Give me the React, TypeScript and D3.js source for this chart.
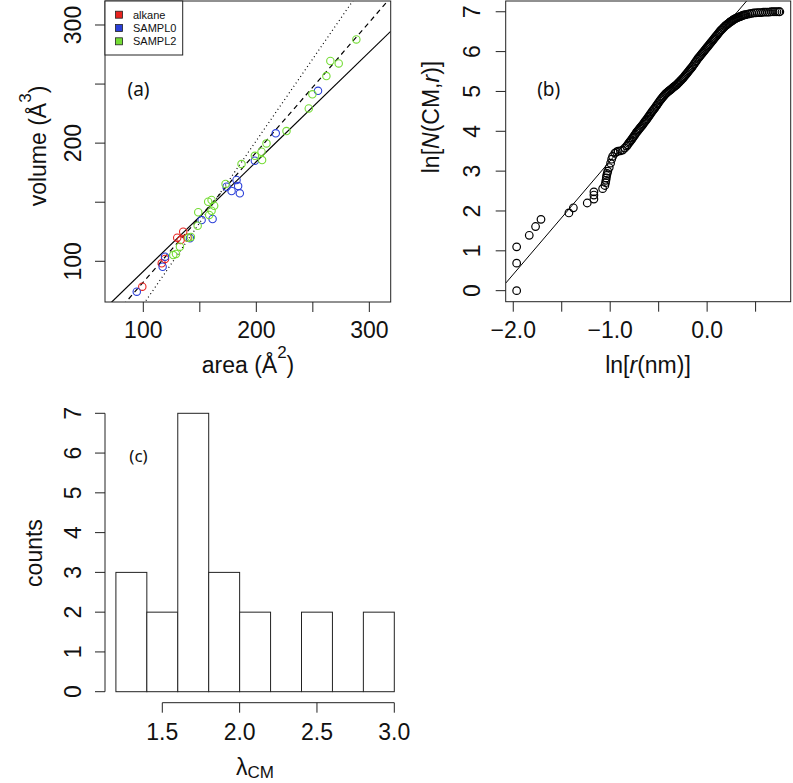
import React from 'react';
import * as d3 from 'd3';

// ---------- Panel (a) data ----------
const alkaneArea = [99.1, 116.3, 119.2, 130.0, 135.3, 139.2, 133.0];
const alkaneVolume = [78.5, 98.3, 102.0, 120.0, 125.0, 120.0, 118.0];
const sampl0Area = [94.2, 117.1, 119.2, 141.3, 151.6, 161.3, 173.7, 178.1, 182.5, 183.9, 185.4, 198.7, 217.2, 254.6];
const sampl0Volume = [74.3, 95.4, 103.9, 119.5, 134.9, 135.8, 163.1, 159.5, 168.8, 163.7, 157.5, 185.1, 208.3, 244.3];
const sampl2Area = [126.5, 128.9, 132.4, 139.8, 142.1, 148.1, 148.6, 158.3, 160.4, 157.4, 160.4, 162.7, 172.8, 186.9, 198.7, 204.6, 205.1, 209.0, 226.7, 246.4, 249.6, 262.0, 265.5, 272.9, 288.5];
const sampl2Volume = [105.3, 106.2, 112.4, 120.0, 120.6, 130.1, 141.5, 139.2, 142.8, 150.4, 151.9, 147.0, 165.4, 182.3, 189.3, 192.7, 185.7, 199.8, 210.2, 229.4, 241.3, 256.8, 269.5, 267.5, 287.8];
const seriesNames = ['alkane', 'SAMPL0', 'SAMPL2'];
const seriesColors = ['#e8231f', '#2a3fd8', '#74dc34'];
const fitSlopes = [0.928, 1.10, 1.386];
const fitIntercepts = [-1.3, -27.6, -75.1];
const fitDashes = ['none', '5,4', '1,3'];
const aXTicks = [100, 150, 200, 250, 300];
const aXLabels = [100, 200, 300];
const aYTicks = [100, 150, 200, 250, 300];
const aYLabels = [100, 200, 300];

// ---------- Panel (b) data ----------
const lnR = [
  -1.965, -1.965, -1.965, -1.835, -1.77, -1.714, -1.426, -1.38, -1.237, -1.168, -1.168, -1.168,
  -1.078, -1.055, -1.048, -1.044, -1.040, -1.037, -1.031, -1.025, -1.01, -0.996, -0.985, -0.975,
  -0.952, -0.935, -0.918, -0.895, -0.872, -0.85,
  -0.83, -0.82, -0.81, -0.80, -0.79, -0.78, -0.77, -0.76, -0.75, -0.74, -0.73, -0.72, -0.71,
  -0.70, -0.69, -0.68, -0.67, -0.66, -0.65, -0.64, -0.63, -0.62, -0.61, -0.60, -0.59, -0.58,
  -0.57, -0.56, -0.55, -0.54, -0.53, -0.52, -0.51, -0.50, -0.49, -0.48, -0.47, -0.46, -0.45,
  -0.44, -0.43, -0.42, -0.41, -0.40, -0.39, -0.38, -0.37, -0.36, -0.35, -0.34, -0.33, -0.32,
  -0.31, -0.30, -0.29, -0.28, -0.27, -0.26, -0.25, -0.24, -0.23, -0.22, -0.21, -0.20, -0.19,
  -0.18, -0.17, -0.16, -0.15, -0.14, -0.13, -0.12, -0.11, -0.10, -0.09, -0.08, -0.07, -0.06,
  -0.05, -0.04, -0.03, -0.02, -0.01, 0.00, 0.01, 0.02, 0.03, 0.04, 0.05, 0.06, 0.07,
  0.08, 0.09, 0.10, 0.11, 0.12, 0.13, 0.14, 0.15, 0.16, 0.17, 0.18, 0.19, 0.20,
  0.21, 0.22, 0.23, 0.24, 0.25, 0.26, 0.27, 0.28, 0.29, 0.30, 0.31, 0.32, 0.33,
  0.34, 0.35, 0.36, 0.37, 0.38, 0.39, 0.40, 0.42, 0.44, 0.46, 0.48, 0.50, 0.52,
  0.54, 0.56, 0.58, 0.60, 0.62, 0.64, 0.66, 0.68, 0.70, 0.72, 0.74, 0.75,
];
const lnN = [
  0.00, 0.69, 1.10, 1.39, 1.61, 1.79, 1.95, 2.08, 2.20, 2.30, 2.40, 2.48,
  2.56, 2.64, 2.71, 2.77, 2.83, 2.89, 2.94, 3.00, 3.09, 3.20, 3.30, 3.37,
  3.45, 3.48, 3.50, 3.51, 3.53, 3.58,
  3.63, 3.66, 3.70, 3.73, 3.76, 3.79, 3.83, 3.86, 3.90, 3.93, 3.97, 4.00, 4.03,
  4.06, 4.09, 4.12, 4.15, 4.18, 4.22, 4.25, 4.28, 4.31, 4.35, 4.38, 4.42, 4.45,
  4.49, 4.52, 4.55, 4.58, 4.62, 4.65, 4.69, 4.72, 4.76, 4.79, 4.82, 4.85, 4.88,
  4.91, 4.94, 4.96, 4.98, 5.00, 5.02, 5.04, 5.06, 5.08, 5.10, 5.12, 5.14, 5.16,
  5.18, 5.21, 5.23, 5.26, 5.28, 5.31, 5.33, 5.36, 5.39, 5.42, 5.45, 5.48, 5.51,
  5.54, 5.57, 5.60, 5.63, 5.67, 5.70, 5.74, 5.77, 5.81, 5.84, 5.87, 5.90, 5.93,
  5.96, 5.99, 6.02, 6.05, 6.08, 6.11, 6.14, 6.17, 6.20, 6.23, 6.26, 6.29, 6.32,
  6.35, 6.38, 6.41, 6.44, 6.47, 6.50, 6.53, 6.55, 6.58, 6.60, 6.63, 6.65, 6.67,
  6.69, 6.71, 6.73, 6.75, 6.76, 6.78, 6.80, 6.81, 6.83, 6.84, 6.85, 6.86, 6.87,
  6.88, 6.89, 6.90, 6.91, 6.92, 6.92, 6.93, 6.94, 6.95, 6.96, 6.97, 6.97, 6.98,
  6.98, 6.98, 6.99, 6.99, 6.99, 6.99, 7.00, 7.00, 7.00, 7.00, 7.00, 7.00,
];
const bFitSlope = 2.85;
const bFitIntercept = 6.11;
const bXTicks = [-2.0, -1.5, -1.0, -0.5, 0.0, 0.5];
const bXLabels = ['-2.0', '-1.0', '0.0'];
const bXLabelValues = [-2.0, -1.0, 0.0];
const bYTicks = [0, 1, 2, 3, 4, 5, 6, 7];

// ---------- Panel (c) data ----------
const binEdges = [1.2, 1.4, 1.6, 1.8, 2.0, 2.2, 2.4, 2.6, 2.8, 3.0];
const binCounts = [3, 2, 7, 3, 2, 0, 2, 0, 2];
const cXTicks = [1.5, 2.0, 2.5, 3.0];
const cYTicks = [0, 1, 2, 3, 4, 5, 6, 7];

const W = 793;
const H = 783;
const FONT = "'Liberation Sans', Arial, Helvetica, sans-serif";
const TICK = 10;
const FS = 23;

export default function App() {
  // panel a
  const ax = d3.scaleLinear().domain([66.1, 318.9]).range([105, 390.7]);
  const ay = d3.scaleLinear().domain([65.55, 320.3]).range([302, 1]);
  // panel b
  const bx = d3.scaleLinear().domain([-2.078, 0.862]).range([505.7, 790.7]);
  const by = d3.scaleLinear().domain([-0.277, 7.27]).range([301.7, 1]);
  // panel c
  const cx = d3.scaleLinear().domain([1.5, 3.0]).range([162.3, 394.3]);
  const cy = d3.scaleLinear().domain([0, 7]).range([691.7, 413.3]);

  const aSeries = [
    { xs: alkaneArea, ys: alkaneVolume },
    { xs: sampl0Area, ys: sampl0Volume },
    { xs: sampl2Area, ys: sampl2Volume },
  ];
  const [ax0, ax1] = ax.domain();
  const [bx0, bx1] = bx.domain();
  const line = d3.line<[number, number]>();

  const aBottom = ay.range()[0];
  const bBottom = by.range()[0];

  return (
    <svg width={W} height={H} style={{ position: 'absolute', left: 0, top: 0, background: '#fff' }} fontFamily={FONT}>
      <defs>
        <clipPath id="clipA"><rect x={105} y={1} width={285.7} height={301} /></clipPath>
        <clipPath id="clipB"><rect x={505.7} y={1} width={285} height={300.7} /></clipPath>
      </defs>

      {/* ===== Panel (a) ===== */}
      <g clipPath="url(#clipA)">
        {fitSlopes.map((s, i) => (
          <path key={i}
            d={line([[ax(ax0), ay(s * ax0 + fitIntercepts[i])], [ax(ax1), ay(s * ax1 + fitIntercepts[i])]]) || ''}
            stroke="#000" strokeWidth={1.2} fill="none" strokeDasharray={fitDashes[i]} />
        ))}
      </g>
      {aSeries.map((s, si) => (
        <g key={si}>
          {s.xs.map((v, i) => (
            <circle key={i} cx={ax(v)} cy={ay(s.ys[i])} r={3.7} fill="none" stroke={seriesColors[si]} strokeWidth={1.1} />
          ))}
        </g>
      ))}
      <rect x={105} y={1} width={285.7} height={301} fill="none" stroke="#222" strokeWidth={1} />
      {/* legend */}
      <rect x={105} y={1} width={77.7} height={54} fill="#fff" stroke="#222" strokeWidth={1} />
      {seriesNames.map((n, i) => (
        <g key={n}>
          <rect x={115.5} y={11.2 + i * 13.3} width={7} height={7} fill={seriesColors[i]} stroke="#222" strokeWidth={0.8} />
          <text x={133} y={18.6 + i * 13.3} fontSize={11} fill="#111">{n}</text>
        </g>
      ))}
      <text x={138.5} y={96} fontSize={19} textAnchor="middle" fontFamily="'Noto Sans', 'Open Sans', sans-serif" fill="#111">(a)</text>
      {/* axes a */}
      {aXTicks.map((t) => (
        <line key={t} x1={ax(t)} x2={ax(t)} y1={aBottom} y2={aBottom + TICK} stroke="#222" />
      ))}
      {aXLabels.map((t) => (
        <text key={t} x={ax(t)} y={338} fontSize={FS} textAnchor="middle" fill="#111">{t}</text>
      ))}
      {aYTicks.map((t) => (
        <line key={t} x1={105 - TICK} x2={105} y1={ay(t)} y2={ay(t)} stroke="#222" />
      ))}
      {aYLabels.map((t) => (
        <text key={t} x={81} y={ay(t)} fontSize={FS} textAnchor="middle" fill="#111"
          transform={`rotate(-90, 81, ${ay(t)})`}>{t}</text>
      ))}
      <text x={248} y={373} fontSize={FS} textAnchor="middle" fill="#111">
        area (Å<tspan fontSize={17} dy={-15}>2</tspan><tspan dy={15}>)</tspan>
      </text>
      <text x={46} y={146} fontSize={FS} textAnchor="middle" fill="#111" transform="rotate(-90, 46, 146)">
        volume (Å<tspan fontSize={17} dy={-15}>3</tspan><tspan dy={15}>)</tspan>
      </text>

      {/* ===== Panel (b) ===== */}
      <g clipPath="url(#clipB)">
        <path d={line([[bx(bx0), by(bFitIntercept + bFitSlope * bx0)], [bx(bx1), by(bFitIntercept + bFitSlope * bx1)]]) || ''}
          stroke="#000" strokeWidth={1} fill="none" />
      </g>
      {lnR.map((v, i) => (
        <circle key={i} cx={bx(v)} cy={by(lnN[i])} r={3.8} fill="none" stroke="#000" strokeWidth={1.2} />
      ))}
      <rect x={505.7} y={1} width={285} height={300.7} fill="none" stroke="#222" strokeWidth={1} />
      <text x={548.7} y={96} fontSize={19} textAnchor="middle" fontFamily="'Noto Sans', 'Open Sans', sans-serif" fill="#111">(b)</text>
      {bXTicks.map((t) => (
        <line key={t} x1={bx(t)} x2={bx(t)} y1={bBottom} y2={bBottom + TICK} stroke="#222" />
      ))}
      {bXLabels.map((t, i) => (
        <text key={t} x={bx(bXLabelValues[i])} y={338} fontSize={FS} textAnchor="middle" fill="#111">{t.replace('-', '\u2212')}</text>
      ))}
      {bYTicks.map((t) => (
        <line key={t} x1={505.7 - TICK} x2={505.7} y1={by(t)} y2={by(t)} stroke="#222" />
      ))}
      {bYTicks.map((t) => (
        <text key={t} x={480} y={by(t)} fontSize={FS} textAnchor="middle" fill="#111"
          transform={`rotate(-90, 480, ${by(t)})`}>{t}</text>
      ))}
      <text x={648} y={373} fontSize={FS} textAnchor="middle" fill="#111">
        ln[<tspan fontStyle="italic">r</tspan>(nm)]
      </text>
      <text x={439} y={117} fontSize={FS} textAnchor="middle" fill="#111" transform="rotate(-90, 439, 117)">
        ln[<tspan fontStyle="italic">N</tspan>(CM,<tspan fontStyle="italic">r</tspan>)]
      </text>

      {/* ===== Panel (c) ===== */}
      {binCounts.map((c, i) => (
        c > 0 ? (
          <rect key={i} x={cx(binEdges[i])} y={cy(c)} width={cx(binEdges[i + 1]) - cx(binEdges[i])} height={cy(0) - cy(c)}
            fill="#fff" stroke="#222" strokeWidth={1} />
        ) : (
          <line key={i} x1={cx(binEdges[i])} x2={cx(binEdges[i + 1])} y1={cy(0)} y2={cy(0)} stroke="#222" />
        )
      ))}
      <text x={138.5} y={462} fontSize={17} textAnchor="middle" fontFamily="'Noto Sans', 'Open Sans', sans-serif" fill="#111">(c)</text>
      <line x1={105} x2={105} y1={cy(0)} y2={cy(7)} stroke="#222" />
      {cYTicks.map((t) => (
        <line key={t} x1={105 - TICK} x2={105} y1={cy(t)} y2={cy(t)} stroke="#222" />
      ))}
      {cYTicks.map((t) => (
        <text key={t} x={81.5} y={cy(t)} fontSize={FS} textAnchor="middle" fill="#111"
          transform={`rotate(-90, 81.5, ${cy(t)})`}>{t}</text>
      ))}
      <line x1={cx(1.5)} x2={cx(3.0)} y1={702.7} y2={702.7} stroke="#222" />
      {cXTicks.map((t) => (
        <line key={t} x1={cx(t)} x2={cx(t)} y1={702.7} y2={702.7 + TICK} stroke="#222" />
      ))}
      {cXTicks.map((t) => (
        <text key={t} x={cx(t)} y={740} fontSize={FS} textAnchor="middle" fill="#111">{t.toFixed(1)}</text>
      ))}
      <text x={42} y={553} fontSize={FS} textAnchor="middle" fill="#111" transform="rotate(-90, 42, 553)">counts</text>
      <text x={255} y={775} fontSize={FS} textAnchor="middle" fill="#111">
        λ<tspan fontSize={17} dy={3}>CM</tspan>
      </text>
    </svg>
  );
}
